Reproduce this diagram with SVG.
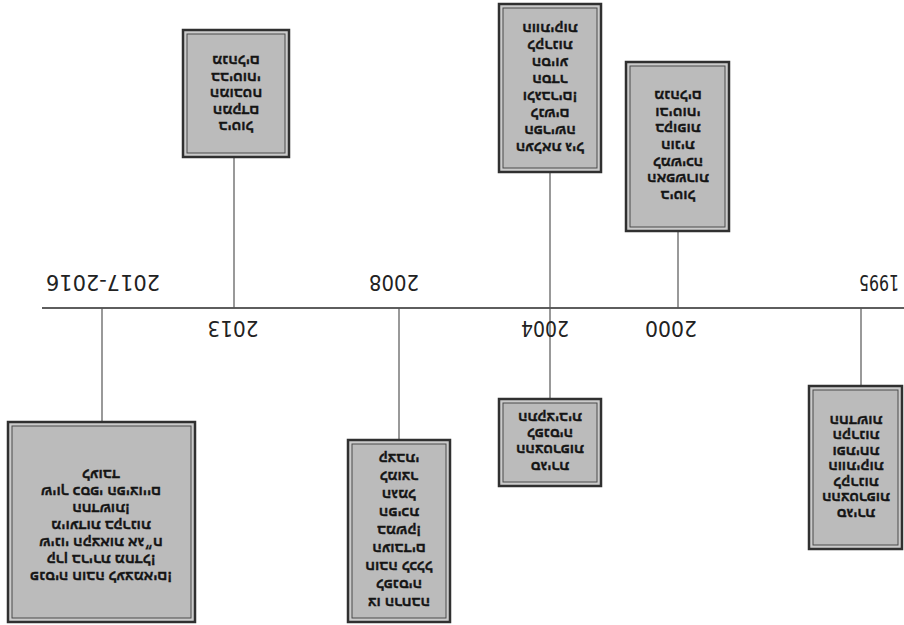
<svg xmlns="http://www.w3.org/2000/svg" width="904" height="625" viewBox="0 0 904 625">
  <style>
    .box-outer { fill: #cbcbcb; stroke: #303030; stroke-width: 2.5; }
    .box-inner { fill: #bbbbbb; stroke: #4a4a4a; stroke-width: 1; }
    .line { stroke: #555; stroke-width: 1.2; fill: none; }
    .axis { stroke: #5e5e5e; stroke-width: 1.8; fill: none; }
    .he { font-family: "Liberation Sans", "DejaVu Sans", sans-serif; font-weight: bold; font-size: 14px; fill: #151515; stroke: #151515; stroke-width: 0.35; text-anchor: middle; dominant-baseline: central; direction: rtl; }
    .year { font-family: "DejaVu Sans", "Liberation Sans", sans-serif; font-size: 22px; fill: #222; text-anchor: middle; dominant-baseline: central; }
  </style>
  <rect width="904" height="625" fill="#fff"/>

  <!-- connectors: axis and ticks -->
  <g id="connectors">
    <line class="axis" x1="42" y1="308" x2="904" y2="308"/>
    <line class="line" x1="102" y1="308" x2="102" y2="422"/>
    <line class="line" x1="234" y1="157" x2="234" y2="308"/>
    <line class="line" x1="399" y1="308" x2="399" y2="440"/>
    <line class="line" x1="550" y1="172" x2="550" y2="399"/>
    <line class="line" x1="678" y1="231" x2="678" y2="308"/>
    <line class="line" x1="861" y1="308" x2="861" y2="386"/>
  </g>

  <!-- year labels (the whole chart is turned upside down) -->
  <g id="years">
    <text class="year" x="103" y="282" textLength="114" lengthAdjust="spacingAndGlyphs" transform="rotate(180 103 282)">2017-2016</text>
    <text class="year" x="394" y="282" textLength="50" lengthAdjust="spacingAndGlyphs" transform="rotate(180 394 282)">2008</text>
    <text class="year" x="879" y="282" textLength="40" lengthAdjust="spacingAndGlyphs" transform="rotate(180 879 282)">1995</text>
    <text class="year" x="233" y="328" textLength="51" lengthAdjust="spacingAndGlyphs" transform="rotate(180 233 328)">2013</text>
    <text class="year" x="545" y="328" textLength="48" lengthAdjust="spacingAndGlyphs" transform="rotate(180 545 328)">2004</text>
    <text class="year" x="671" y="328" textLength="52" lengthAdjust="spacingAndGlyphs" transform="rotate(180 671 328)">2000</text>
  </g>

  <!-- 2013 -->
  <g id="node-2013">
    <rect class="box-outer" x="183" y="30" width="106" height="127"/>
    <rect class="box-inner" x="187" y="34" width="98" height="119"/>
    <g transform="rotate(180 236 94)">
      <text class="he" x="236" y="61">ביטול</text>
      <text class="he" x="236" y="77.5">המקדם</text>
      <text class="he" x="236" y="94">המובטח</text>
      <text class="he" x="236" y="110.5">בביטוחי</text>
      <text class="he" x="236" y="127">מנהלים</text>
    </g>
  </g>

  <!-- 2004 (upper) -->
  <g id="node-2004-a">
    <rect class="box-outer" x="499" y="4" width="102" height="168"/>
    <rect class="box-inner" x="503" y="8" width="94" height="160"/>
    <g transform="rotate(180 550 88)">
      <text class="he" x="550" y="28.5">העלאת גיל</text>
      <text class="he" x="550" y="45.5">הפרישה</text>
      <text class="he" x="550" y="62.5">לנשים</text>
      <text class="he" x="550" y="79.5">ולגברים!</text>
      <text class="he" x="550" y="96.5">הסדר</text>
      <text class="he" x="550" y="113.5">הסיוע</text>
      <text class="he" x="550" y="130.5">לקרנות</text>
      <text class="he" x="550" y="147.5">הוותיקות</text>
    </g>
  </g>

  <!-- 2000 -->
  <g id="node-2000">
    <rect class="box-outer" x="626" y="62" width="103" height="169"/>
    <rect class="box-inner" x="630" y="66" width="95" height="161"/>
    <g transform="rotate(180 678 146)">
      <text class="he" x="678" y="96">ביטול</text>
      <text class="he" x="678" y="112.7">האפשרות</text>
      <text class="he" x="678" y="129.4">למשיכה</text>
      <text class="he" x="678" y="146">הונית</text>
      <text class="he" x="678" y="162.7">בקופות</text>
      <text class="he" x="678" y="179.4">וביטוחי</text>
      <text class="he" x="678" y="196">מנהלים</text>
    </g>
  </g>

  <!-- 2017-2016 -->
  <g id="node-2016">
    <rect class="box-outer" x="8" y="422" width="187" height="200"/>
    <rect class="box-inner" x="12" y="426" width="179" height="192"/>
    <g transform="rotate(180 101 526)">
      <text class="he" x="101" y="475">פנסיה חובה לעצמאים!</text>
      <text class="he" x="101" y="492">קרן ברירת מחדל!</text>
      <text class="he" x="101" y="509">שינוי הקצאות אג״ח</text>
      <text class="he" x="101" y="526">מיועדות בקרנות</text>
      <text class="he" x="101" y="543">החדשות!</text>
      <text class="he" x="101" y="560">שיוך כספי הפיצויים</text>
      <text class="he" x="101" y="577">לעובד</text>
    </g>
  </g>

  <!-- 2008 -->
  <g id="node-2008">
    <rect class="box-outer" x="348" y="440" width="102" height="182"/>
    <rect class="box-inner" x="352" y="444" width="94" height="174"/>
    <g transform="rotate(180 399 531)">
      <text class="he" x="399" y="459">צו הרחבה</text>
      <text class="he" x="399" y="477">לפנסיה</text>
      <text class="he" x="399" y="495">חובה לכלל</text>
      <text class="he" x="399" y="513">העובדים</text>
      <text class="he" x="399" y="531">במשק!</text>
      <text class="he" x="399" y="549">הפיכת</text>
      <text class="he" x="399" y="567">הגמל</text>
      <text class="he" x="399" y="585">למוצר</text>
      <text class="he" x="399" y="603">קצבתי</text>
    </g>
  </g>

  <!-- 2004 (lower) -->
  <g id="node-2004-b">
    <rect class="box-outer" x="499" y="399" width="102" height="87"/>
    <rect class="box-inner" x="503" y="403" width="94" height="79"/>
    <g transform="rotate(180 550 442)">
      <text class="he" x="550" y="417.5">סגירת</text>
      <text class="he" x="550" y="433.8">ההצטרפות</text>
      <text class="he" x="550" y="450.2">לפנסיה</text>
      <text class="he" x="550" y="466.5">התקציבית</text>
    </g>
  </g>

  <!-- 1995 -->
  <g id="node-1995">
    <rect class="box-outer" x="809" y="386" width="93" height="163"/>
    <rect class="box-inner" x="813" y="390" width="85" height="155"/>
    <g transform="rotate(180 856 467)">
      <text class="he" x="856" y="420.5">סגירת</text>
      <text class="he" x="856" y="436">ההצטרפות</text>
      <text class="he" x="856" y="451.5">לקרנות</text>
      <text class="he" x="856" y="467">הוותיקות</text>
      <text class="he" x="856" y="482.5">ופתיחת</text>
      <text class="he" x="856" y="498">הקרנות</text>
      <text class="he" x="856" y="513.5">החדשות</text>
    </g>
  </g>
</svg>
